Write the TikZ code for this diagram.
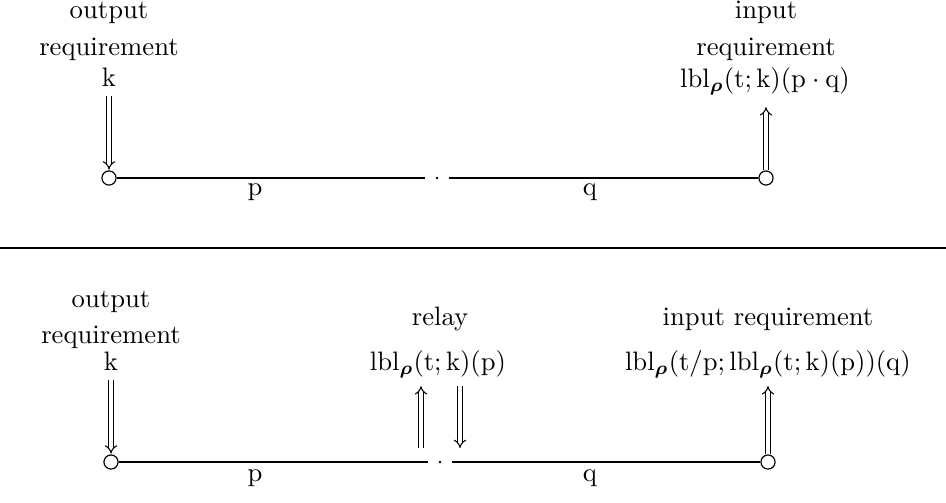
\documentclass[tikz,border=0pt]{standalone}
\usepackage{amsmath}
\usetikzlibrary{arrows.meta}
\newcommand\lblr{\mathrm{lbl}_{\boldsymbol{\rho}}}
\newcommand\rmv[1]{\mathrm{#1}}
\begin{document}
\begin{tikzpicture}[x=0.375pt,y=-0.375pt,
  port/.style={circle,draw,line width=0.45pt,inner sep=0pt,minimum size=5.3pt,fill=white},
  gap/.style={circle,inner sep=0pt,minimum size=8.5pt},
  wire/.style={line width=0.45pt},
  dbl/.style={double,double distance=1.2pt,line width=0.4pt,-{Implies}},
  txt/.style={inner sep=0pt,anchor=base}]
\useasboundingbox (0,0) rectangle (946,502);
% ---------- top ----------
\node[port] (a1) at (109,178) {};
\node[port] (b1) at (766,178) {};
\node[gap] (m1) at (437,178) {};
\fill (m1) circle (0.55pt);
\draw[wire] (a1) -- (m1);
\draw[wire] (m1) -- (b1);
\node[txt] (p1) at (255,195) {$\rmv{p}$};
\node[txt] (q1) at (590,195) {$\rmv{q}$};
\node[txt] (tl1) at (109,18) {output};
\node[txt] (tl2) at (109,55) {requirement};
\node[txt] (tl3) at (109,86) {$\rmv{k}$};
\node[txt] (tr1) at (766,18) {input};
\node[txt] (tr2) at (766,55) {requirement};
\node[txt] (tr3) at (765,87) {$\lblr(\rmv{t};\rmv{k})(\rmv{p}\cdot\rmv{q})$};
\draw[dbl,shorten <=3.4pt,shorten >=0.3pt] (tl3.south) -- (a1.north);
\draw[dbl,shorten <=0.3pt,shorten >=4.5pt] (b1.north) -- (b1 |- tr3.south);
% ---------- separator ----------
\coordinate (s0) at (0,248);
\coordinate (s1) at (946,248);
\draw[wire] (s0) -- (s1);
% ---------- bottom ----------
\node[port] (a2) at (111,462) {};
\node[port] (b2) at (768,462) {};
\node[gap] (m2) at (440,462) {};
\fill (m2) circle (0.55pt);
\draw[wire] (a2) -- (m2);
\draw[wire] (m2) -- (b2);
\node[txt] (p2) at (255,481) {$\rmv{p}$};
\node[txt] (q2) at (590,481) {$\rmv{q}$};
\node[txt] (bl1) at (111,307) {output};
\node[txt] (bl2) at (111,343) {requirement};
\node[txt] (bl3) at (111,370) {$\rmv{k}$};
\draw[dbl,shorten <=3.6pt,shorten >=0.3pt] (bl3.south) -- (a2.north);
\node[txt] (rl) at (440,325) {relay};
\node[txt] (rf) at (438,370) {$\lblr(\rmv{t};\rmv{k})(\rmv{p})$};
\coordinate (u1) at (421,448);
\coordinate (d1) at (460,448);
\draw[dbl,shorten >=3pt] (u1) -- (u1 |- rf.south);
\draw[dbl,shorten <=3pt] (d1 |- rf.south) -- (d1);
\node[txt] (ir) at (768,325) {input requirement};
\node[txt] (irf) at (768,370) {$\lblr(\rmv{t}/\rmv{p};\lblr(\rmv{t};\rmv{k})(\rmv{p}))(\rmv{q})$};
\draw[dbl,shorten <=0.3pt,shorten >=3pt] (b2.north) -- (b2 |- irf.south);
\end{tikzpicture}
\end{document}
